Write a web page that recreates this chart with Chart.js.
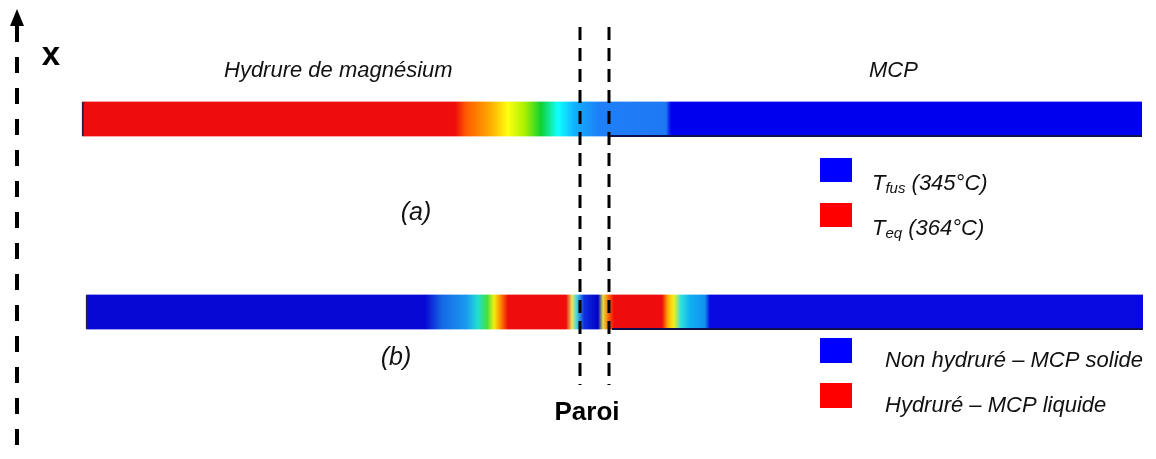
<!DOCTYPE html>
<html>
<head>
<meta charset="utf-8">
<script src="https://cdn.jsdelivr.net/npm/chart.js@4/dist/chart.umd.min.js"></script>
<style>
  html, body { margin: 0; padding: 0; background: #fff; }
  #wrap { width: 1156px; height: 459px; }
</style>
</head>
<body>
<div id="wrap"><canvas id="myChart" width="1156" height="459"></canvas></div>
<script>
// figure units: position along the rod (x) and row height (y), same scale as the picture
var rodNames = ['(a)', '(b)'];
var rodRows = [119, 312];
var rodStart = [82, 86];
var rodEnd = [1142, 1143];

// temperature / state profile along each rod
var stopsA = [82, 455, 466, 490, 508, 525, 541, 558, 575, 598, 666, 671, 1142];
var colorsA = ['#ee0c0c', '#ee0c0c', '#ff5a00', '#ffaa00', '#ffff10', '#a8f000', '#10d030', '#10ffff', '#10b0ff', '#1e80f8', '#1e78f4', '#0000ee', '#0000ee'];

var stopsB = [86, 425, 442, 466, 478, 487, 494, 501, 508, 566, 572, 577, 584, 598, 603, 608, 614, 662, 668, 674, 681, 690, 705, 710, 1143];
var colorsB = ['#0808d4', '#0808d4', '#1668e4', '#1a98f0', '#20e0d0', '#40e040', '#f0f010', '#ff8000', '#ee0c0c', '#ee0c0c', '#e8e860', '#40d0e0', '#1030e0', '#0000c8', '#e0e040', '#ff7000', '#ee0c0c', '#ee0c0c', '#ffb000', '#f0f020', '#30e0e0', '#10b0f0', '#1090f0', '#0808e0', '#0808e0'];

// two wall lines
var wallPos = [580, 609];

// legends
var legendTop = [
  { color: '#0000ff', main: 'T', sub: 'fus', rest: ' (345°C)' },
  { color: '#ff0000', main: 'T', sub: 'eq', rest: ' (364°C)' }
];
var legendBottom = [
  { color: '#0000ff', text: 'Non hydruré – MCP solide' },
  { color: '#ff0000', text: 'Hydruré – MCP liquide' }
];

var FONT = "'Liberation Sans', Arial, sans-serif";

function rodGradient(context) {
  var chart = context.chart;
  if (!chart.chartArea) return '#ccc';
  var xs = chart.scales.x;
  var i = context.dataIndex;
  var stops = i === 0 ? stopsA : stopsB;
  var colors = i === 0 ? colorsA : colorsB;
  var x0 = xs.getPixelForValue(rodStart[i]);
  var x1 = xs.getPixelForValue(rodEnd[i]);
  var g = chart.ctx.createLinearGradient(x0, 0, x1, 0);
  for (var k = 0; k < stops.length; k++) {
    var t = (stops[k] - rodStart[i]) / (rodEnd[i] - rodStart[i]);
    g.addColorStop(Math.min(1, Math.max(0, t)), colors[k]);
  }
  return g;
}

var decor = {
  id: 'decor',
  afterDatasetsDraw: function(chart) {
    var ctx = chart.ctx;
    var xs = chart.scales.x, ys = chart.scales.y;
    var X = function(v) { return xs.getPixelForValue(v); };
    var Y = function(v) { return ys.getPixelForValue(v); };
    ctx.save();

    // dark bottom edge on right part of the rods
    ctx.strokeStyle = '#101050';
    ctx.lineWidth = 2;
    ctx.beginPath();
    ctx.moveTo(X(608), Y(rodRows[0] + 17)); ctx.lineTo(X(rodEnd[0]), Y(rodRows[0] + 17));
    ctx.moveTo(X(612), Y(rodRows[1] + 17)); ctx.lineTo(X(rodEnd[1]), Y(rodRows[1] + 17));
    ctx.stroke();

    // walls
    ctx.strokeStyle = '#000';
    ctx.lineWidth = 3;
    ctx.setLineDash([13, 8]);
    wallPos.forEach(function(p) {
      ctx.beginPath();
      ctx.moveTo(X(p), Y(27));
      ctx.lineTo(X(p), Y(385));
      ctx.stroke();
    });

    // x axis arrow on the left
    ctx.lineWidth = 4;
    ctx.setLineDash([16, 15]);
    ctx.beginPath();
    ctx.moveTo(X(17), Y(57));
    ctx.lineTo(X(17), Y(459));
    ctx.stroke();
    ctx.setLineDash([]);
    ctx.beginPath();
    ctx.moveTo(X(17), Y(24));
    ctx.lineTo(X(17), Y(42));
    ctx.stroke();
    ctx.fillStyle = '#000';
    ctx.beginPath();
    ctx.moveTo(X(17), Y(9));
    ctx.lineTo(X(10), Y(26));
    ctx.lineTo(X(24), Y(26));
    ctx.closePath();
    ctx.fill();

    // texts
    ctx.textBaseline = 'alphabetic';
    ctx.fillStyle = '#000';
    ctx.font = 'bold 33px ' + FONT;
    ctx.textAlign = 'center';
    ctx.fillText('x', X(51), Y(65));

    ctx.fillStyle = '#111';
    ctx.font = 'italic 22px ' + FONT;
    ctx.textAlign = 'left';
    ctx.fillText('Hydrure de magnésium', X(224), Y(77));
    ctx.fillText('MCP', X(869), Y(77));
    ctx.textAlign = 'center';
    ctx.font = 'italic 25px ' + FONT;
    ctx.fillText(rodNames[0], X(416), Y(220));
    ctx.fillText(rodNames[1], X(396), Y(365));

    ctx.fillStyle = '#000';
    ctx.font = 'bold 26px ' + FONT;
    ctx.fillText('Paroi', X(587), Y(420));

    // legend (a)
    ctx.textAlign = 'left';
    legendTop.forEach(function(it, k) {
      var top = 158 + k * 45;
      ctx.fillStyle = it.color;
      ctx.fillRect(X(820), Y(top), X(852) - X(820), Y(top + 24) - Y(top));
      var base = top + 32;
      ctx.fillStyle = '#111';
      ctx.font = 'italic 22px ' + FONT;
      ctx.fillText(it.main, X(872), Y(base));
      var w = ctx.measureText(it.main).width;
      ctx.font = 'italic 15px ' + FONT;
      ctx.fillText(it.sub, X(872) + w, Y(base + 3));
      var w2 = ctx.measureText(it.sub).width;
      ctx.font = 'italic 22px ' + FONT;
      ctx.fillText(it.rest, X(872) + w + w2, Y(base));
    });

    // legend (b)
    legendBottom.forEach(function(it, k) {
      var top = 338 + k * 45;
      ctx.fillStyle = it.color;
      ctx.fillRect(X(820), Y(top), X(852) - X(820), Y(top + 25) - Y(top));
      ctx.fillStyle = '#111';
      ctx.font = 'italic 22px ' + FONT;
      ctx.fillText(it.text, X(885), Y(top + 29));
    });

    ctx.restore();
  }
};

var data = rodNames.map(function(n, i) {
  return { x: [rodStart[i], rodEnd[i]], y: rodRows[i] };
});

var chart = new Chart(document.getElementById('myChart'), {
  type: 'bar',
  data: {
    datasets: [{
      label: 'profil',
      data: data,
      backgroundColor: rodGradient,
      borderColor: '#202040',
      borderWidth: { left: 2, top: 0, right: 0, bottom: 0 },
      borderSkipped: false,
      barThickness: 35
    }]
  },
  options: {
    indexAxis: 'y',
    responsive: false,
    animation: false,
    layout: { padding: 0 },
    plugins: { legend: { display: false }, tooltip: { enabled: false }, title: { display: false } },
    scales: {
      x: { type: 'linear', min: 0, max: 1156, display: false },
      y: { type: 'linear', min: 0, max: 459, reverse: true, offset: false, display: false }
    }
  },
  plugins: [decor]
});
</script>
</body>
</html>
